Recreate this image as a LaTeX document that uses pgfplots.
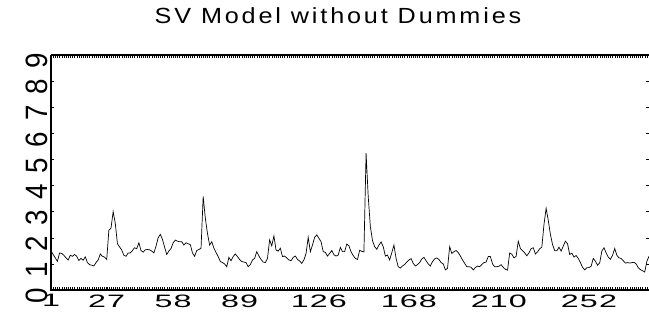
\documentclass[border=0pt]{standalone}
\usepackage{fontspec}
\usepackage{pgfplots}
\usepackage{pgfplotstable}
\pgfplotsset{compat=1.18}
\newfontfamily\tfont[FakeStretch=1.15,LetterSpace=13]{Liberation Sans}
\newfontfamily\xfont[FakeStretch=1.8,LetterSpace=6]{Liberation Sans}
\newfontfamily\yfont[FakeStretch=0.9]{Liberation Sans}
\pgfplotstableread{
x y
1 1.51
2 1.36
3 1.23
4 1.10
5 1.42
6 1.40
7 1.33
8 1.23
9 1.15
10 1.33
11 1.29
12 1.36
13 1.29
14 1.13
15 1.21
16 1.14
17 1.27
18 1.05
19 0.97
20 0.95
21 0.92
22 1.05
23 1.15
24 1.38
25 1.29
26 1.26
27 1.17
28 2.29
29 2.37
30 3.00
31 2.55
32 1.77
33 1.65
34 1.53
35 1.33
36 1.29
37 1.42
38 1.42
39 1.51
40 1.62
41 1.58
42 1.81
43 1.51
44 1.45
45 1.54
46 1.55
47 1.54
48 1.49
49 1.42
50 1.68
51 2.00
52 2.13
53 1.94
54 1.64
55 1.36
56 1.49
57 1.59
58 1.81
59 1.91
60 1.87
61 1.85
62 1.85
63 1.72
64 1.81
65 1.77
66 1.74
67 1.42
68 1.29
69 1.51
70 1.55
71 1.60
72 3.58
73 2.75
74 2.17
75 1.72
76 1.85
77 1.60
78 1.44
79 1.28
80 1.09
81 1.05
82 1.00
83 0.89
84 1.25
85 1.12
86 1.28
87 1.38
88 1.28
89 1.17
90 1.09
91 1.07
92 1.05
93 0.89
94 0.97
95 1.15
96 1.21
97 1.47
98 1.30
99 1.17
100 1.07
101 1.05
102 1.21
103 1.92
104 1.69
105 2.07
106 1.53
107 1.49
108 1.60
109 1.28
110 1.30
111 1.23
112 1.15
113 1.12
114 1.25
115 1.30
116 1.17
117 1.11
118 1.02
119 1.15
120 1.40
121 2.02
122 1.47
123 1.72
124 2.02
125 2.11
126 1.98
127 1.85
128 1.47
129 1.44
130 1.30
131 1.40
132 1.51
133 1.35
134 1.30
135 1.34
136 1.63
137 1.47
138 1.47
139 1.76
140 1.69
141 1.46
142 1.32
143 1.21
144 1.17
145 1.52
146 1.48
147 1.46
148 5.24
149 3.58
150 2.43
151 1.89
152 1.66
153 1.56
154 1.72
155 1.84
156 1.66
157 1.30
158 1.34
159 1.15
160 1.43
161 1.72
162 1.21
163 0.89
164 0.84
165 0.92
166 0.98
167 1.07
168 1.15
169 1.20
170 1.02
171 0.92
172 0.97
173 1.05
174 1.19
175 1.25
176 1.12
177 1.00
178 0.92
179 1.09
180 1.19
181 1.23
182 1.17
183 1.05
184 1.00
185 0.77
186 0.83
187 1.66
188 1.40
189 1.47
190 1.51
191 1.43
192 1.30
193 1.15
194 1.02
195 0.89
196 0.89
197 0.87
198 0.77
199 0.86
200 0.92
201 0.89
202 0.98
203 1.05
204 1.07
205 1.28
206 1.28
207 1.00
208 0.89
209 0.89
210 0.91
211 0.97
212 0.87
213 0.79
214 0.76
215 1.42
216 1.37
217 1.23
218 1.29
219 1.87
220 1.59
221 1.51
222 1.42
223 1.31
224 1.42
225 1.58
226 1.62
227 1.38
228 1.46
229 1.58
230 1.64
231 2.51
232 3.13
233 2.67
234 2.13
235 1.74
236 1.51
237 1.50
238 1.64
239 1.49
240 1.68
241 1.87
242 1.77
243 1.36
244 1.41
245 1.26
246 1.32
247 1.21
248 1.05
249 0.87
250 0.77
251 0.85
252 0.86
253 0.91
254 1.21
255 1.10
256 0.95
257 1.04
258 1.49
259 1.62
260 1.42
261 1.26
262 1.18
263 1.33
264 1.59
265 1.33
266 1.23
267 1.21
268 1.12
269 1.03
270 1.05
271 1.03
272 1.05
273 1.06
274 1.00
275 0.85
276 0.78
277 0.74
278 0.69
279 1.10
280 1.29
}\sv
\begin{document}
\begin{tikzpicture}
\begin{axis}[
  scale only axis,
  width=598bp, height=235bp,
  xmin=1, xmax=280, ymin=0, ymax=9,
  axis line style={draw=none},
  xtick={1,27,58,89,126,168,210,252},
  xticklabels={1,27,58,89,126,168,210,252},
  minor xtick={1,2,...,280},
  ytick={0,1,...,9},
  yticklabels={0,1,2,3,4,5,6,7,8,9},
  tick align=inside,
  major tick length=3bp,
  minor tick length=2.5bp,
  every tick/.style={black, line width=0.5pt},
  minor tick style={black, line width=0.4pt},
  xticklabel style={font=\xfont\fontsize{18}{18}\selectfont, yshift=-1bp},
  yticklabel style={font=\yfont\fontsize{31}{31}\selectfont, rotate=90, anchor=south, xshift=-6bp},
  xtick pos=both, ytick pos=both,
  xticklabel pos=lower, yticklabel pos=left,
  clip=false,
]
\addplot[black, line width=0.7pt] table[x=x, y=y] {\sv};
\draw[line width=1.6pt] (rel axis cs:0,1) -- (rel axis cs:0,0) -- (rel axis cs:1,0);
\draw[line width=1.6pt] (rel axis cs:0,1) -- (rel axis cs:1,1);
\coordinate (A) at (rel axis cs:0,0);
\coordinate (B) at (rel axis cs:1,1);
\node[font=\tfont\fontsize{22}{22}\selectfont, anchor=base] at ([xshift=-12bp,yshift=32bp]rel axis cs:0.5,1) {SV Model without Dummies};
\end{axis}
\pgfresetboundingbox
\path[use as bounding box] ([xshift=-51bp,yshift=-30bp]A) rectangle ([yshift=55bp]B);
\end{tikzpicture}
\end{document}
